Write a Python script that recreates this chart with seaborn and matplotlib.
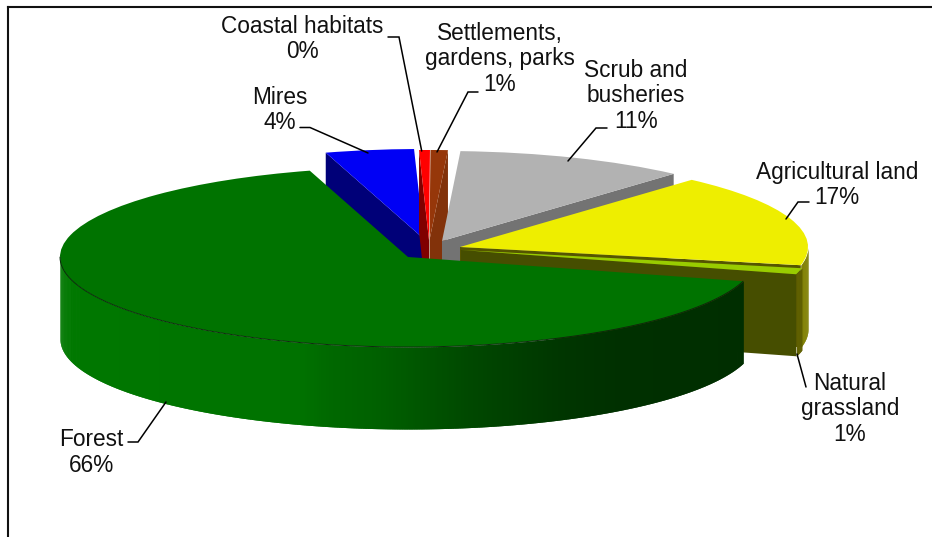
import numpy as np
import matplotlib
matplotlib.use("Agg")
import matplotlib.pyplot as plt
import seaborn as sns

# ---- data (clockwise from the Forest/Mires boundary) ----
categories = ["Mires", "Coastal habitats", "Settlements,\ngardens, parks",
              "Scrub and\nbusheries", "Agricultural land", "Natural\ngrassland", "Forest"]
values = [4.1, 0.5, 0.8, 10.75, 16.65, 1.1, 66.1]
percent_labels = ["4%", "0%", "1%", "11%", "17%", "1%", "66%"]

# ---- styles ----
top_colors = ["#0000F5", "#FF0000", "#96370A", "#B2B2B2", "#EEEE00", "#99CC00", "#007300"]
wall_colors = ["#000078", "#800000", "#82320A", "#737373", "#555500", "#464E00", None]
rim_colors = [None, None, None, None, "#808000", "#606000", None]

# ---- layout in pixels ----
W, H = 932, 537
CX, CY, A, B = 408.0, 257.0, 348.0, 90.0   # forest apex and ellipse semi-axes
DEPTH = 82.0
START = 106.4
apexes = [(424, 239), (429, 240), (429.5, 240), (442, 241), (460, 247), (461, 250), (408, 257)]
radial_side = ["first", "first", "last", "last", "last", "last", None]
frame_x, frame_y = 7.5, 6.5

text_pos = [(280, 110), (302, 39), (500, 59), (636, 96), (837, 185), (850, 409), (91, 452.5)]
leaders = [
    [(300, 127.5), (310, 127.5), (368, 153)],
    [(388, 37), (399, 37), (421.7, 151)],
    [(478, 92), (468, 92), (437, 152)],
    [(607, 128), (596, 128), (568, 161)],
    [(809, 202), (798, 202), (786, 219)],
    [(806, 387), (797, 354)],
    [(128, 442), (138, 442), (166, 402)],
]

# forest rim shading against pixel x
rim_x = [60, 300, 330, 380, 470, 560, 620, 750]
rim_g = [120, 114, 104, 96, 72, 54, 48, 46]

sns.set_theme(style="white")
plt.rcParams["font.family"] = ["Liberation Sans", "DejaVu Sans"]


def X(px):
    return (np.asarray(px, float) - CX) / A


def Y(py):
    return (CY - np.asarray(py, float)) / B


fig = plt.figure(figsize=(W / 100, H / 100), dpi=100, facecolor="white")
ax = fig.add_axes([frame_x / W, 0, 1 - frame_x / W, 1 - frame_y / H])

wedges, _ = ax.pie(values, colors=top_colors, startangle=START, counterclock=False,
                   radius=1.0, frame=True, wedgeprops=dict(linewidth=0))
ax.set_aspect("auto")
ax.set_xlim(X(frame_x), X(W))
ax.set_ylim(Y(H), Y(frame_y))
ax.set_xticks([])
ax.set_yticks([])
sns.despine(ax=ax, top=False, left=False, right=True, bottom=True)
for side in ("left", "top"):
    ax.spines[side].set_color("#111111")
    ax.spines[side].set_linewidth(1.5)

dy = DEPTH / B
STEP = 0.4
for i, w in enumerate(wedges):
    cx, cy = X(apexes[i][0]), Y(apexes[i][1])
    w.set_center((cx, cy))
    w.set_zorder(2 * i + 3)
    t1, t2 = w.theta1, w.theta2
    z = 2 * i + 2
    # radial wall
    if radial_side[i] is not None:
        ang = np.deg2rad(t2 if radial_side[i] == "first" else t1)
        ex, ey = cx + np.cos(ang), cy + np.sin(ang)
        ax.fill([cx, ex, ex, cx], [cy, ey, ey - dy, cy - dy],
                color=wall_colors[i], lw=0, zorder=z)
    # outer rim: only the part facing the viewer (angles -180..0)
    lo, hi = max(t1, -180), min(t2, 0)
    if lo < hi:
        for e0 in np.arange(lo, hi, STEP):
            # each strip runs one step past the next, which is drawn over it
            th = np.deg2rad(np.linspace(e0, min(e0 + 2 * STEP, hi), 4))
            xs = cx + np.cos(th)
            upper = cy + np.sin(th)
            if rim_colors[i] is None:
                g = np.interp(CX + A * np.cos(np.deg2rad(e0 + STEP / 2)), rim_x, rim_g) / 255
                col = (0, g, 0)
            else:
                col = rim_colors[i]
            ax.fill_between(xs, upper - dy, upper, color=col, lw=0, zorder=z)

# thin seam round the front of the forest top
fw = wedges[-1]
th = np.deg2rad(np.linspace(max(fw.theta1, -180), min(fw.theta2, 0), 300))
ax.plot(np.cos(th), np.sin(th), color="#0A2A0A", lw=0.7, zorder=2 * len(wedges) + 3)

for i, name in enumerate(categories):
    pts = np.array(leaders[i], float)
    ax.plot(X(pts[:, 0]), Y(pts[:, 1]), color="black", lw=1.1, zorder=30,
            solid_joinstyle="miter", clip_on=False)
    ax.text(X(text_pos[i][0]), Y(text_pos[i][1]), f"{name}\n{percent_labels[i]}",
            ha="center", va="center", multialignment="center",
            fontsize=16.3, color="#111111", linespacing=1.16, zorder=31)

fig.savefig("out.png", dpi=100, facecolor="white")
